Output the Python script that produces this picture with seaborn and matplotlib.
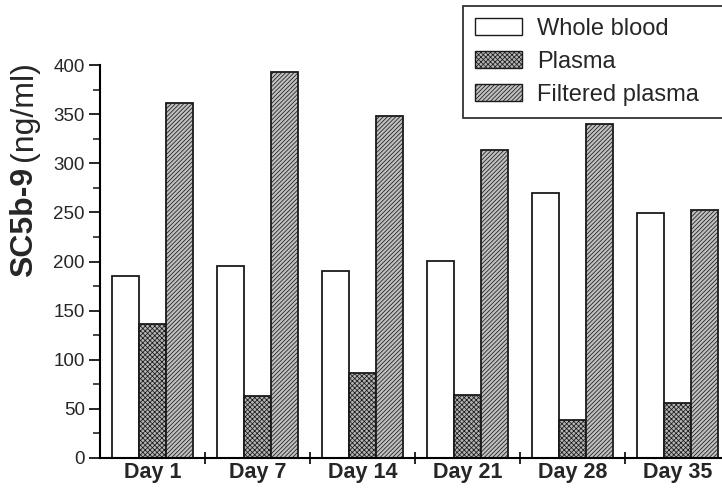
import matplotlib
matplotlib.use("Agg")
import matplotlib.pyplot as plt
import seaborn as sns
import pandas as pd
from matplotlib.patches import Patch
from matplotlib.ticker import MultipleLocator, FixedLocator

days = ["Day 1", "Day 7", "Day 14", "Day 21", "Day 28", "Day 35"]
whole_blood = [185, 195, 190, 201, 270, 249]
plasma = [136, 63, 87, 64, 39, 56]
filtered_plasma = [361, 393, 348, 313, 340, 252]
series_names = ["Whole blood", "Plasma", "Filtered plasma"]

df = pd.DataFrame({
    "day": days * 3,
    "sample": sum([[n] * len(days) for n in series_names], []),
    "value": whole_blood + plasma + filtered_plasma,
})

sns.set_style("white")
plt.rcParams["font.family"] = ["Liberation Sans", "DejaVu Sans"]
plt.rcParams["hatch.linewidth"] = 0.55
plt.rcParams["hatch.color"] = "#333333"

fig = plt.figure(figsize=(7.22, 4.92), dpi=100)
ax = fig.add_axes([100 / 722, 34 / 492, 630 / 722, (458 - 65) / 492])

styles = {
    "Whole blood": dict(facecolor="white", hatch=None),
    "Plasma": dict(facecolor="#b4b4b4", hatch="xxxxxxx"),
    "Filtered plasma": dict(facecolor="#c0c0c0", hatch="////////"),
}

sns.barplot(data=df, x="day", y="value", hue="sample", order=days,
            hue_order=series_names, width=0.78, gap=0, ax=ax,
            palette=["white", "#b4b4b4", "#c0c0c0"], legend=False,
            edgecolor="black", linewidth=1.3, saturation=1)

for name, cont in zip(series_names, ax.containers):
    for bar in cont:
        bar.set_facecolor(styles[name]["facecolor"])
        bar.set_edgecolor("#1a1a1a")
        if styles[name]["hatch"]:
            bar.set_hatch(styles[name]["hatch"])

ax.set_xlim(-0.5, 5.5)
ax.set_ylim(0, 400)
sns.despine(ax=ax, top=True, right=True)
for s in ["left", "bottom"]:
    ax.spines[s].set_linewidth(1.5)
    ax.spines[s].set_color("black")

ax.yaxis.set_major_locator(MultipleLocator(50))
ax.yaxis.set_minor_locator(MultipleLocator(25))
ax.tick_params(axis="y", which="major", direction="out", length=8, width=1.4,
               labelsize=13.5, pad=3, left=True)
ax.tick_params(axis="y", which="minor", direction="out", length=5, width=1.2,
               left=True)

ax.xaxis.set_minor_locator(FixedLocator([0.5, 1.5, 2.5, 3.5, 4.5]))
ax.tick_params(axis="x", which="major", length=0, labelsize=15.5, pad=3)
ax.tick_params(axis="x", which="minor", direction="inout", length=9, width=1.4,
               bottom=True)
for lbl in ax.get_xticklabels():
    lbl.set_fontweight("bold")

ax.set_xlabel("")
ax.set_ylabel("")

# y-axis title: bold compound name followed by the regular unit
name_txt = fig.text(24 / 722, 1 - 277 / 492, "SC5b-9", rotation=90,
                    fontsize=23, fontweight="bold", ha="center", va="bottom")
fig.canvas.draw()
bb = name_txt.get_window_extent().transformed(fig.transFigure.inverted())
fig.text(24 / 722, bb.y1 + 6 / 492, "(ng/ml)", rotation=90, fontsize=23,
         ha="center", va="bottom")

handles = [Patch(facecolor=styles[n]["facecolor"], edgecolor="#1a1a1a",
                 hatch=styles[n]["hatch"], linewidth=1.0) for n in series_names]
leg = fig.legend(handles, series_names, loc="upper left",
                 bbox_to_anchor=(463 / 722, 1 - 115 / 492, 275 / 722, 109 / 492),
                 mode="expand", fontsize=17,
                 frameon=True, fancybox=False, edgecolor="black",
                 handlelength=2.0, handleheight=0.7, handletextpad=0.65,
                 labelspacing=0.47, borderpad=0.5, borderaxespad=0)
leg.get_frame().set_linewidth(1.3)

fig.savefig("out.png", dpi=100)
